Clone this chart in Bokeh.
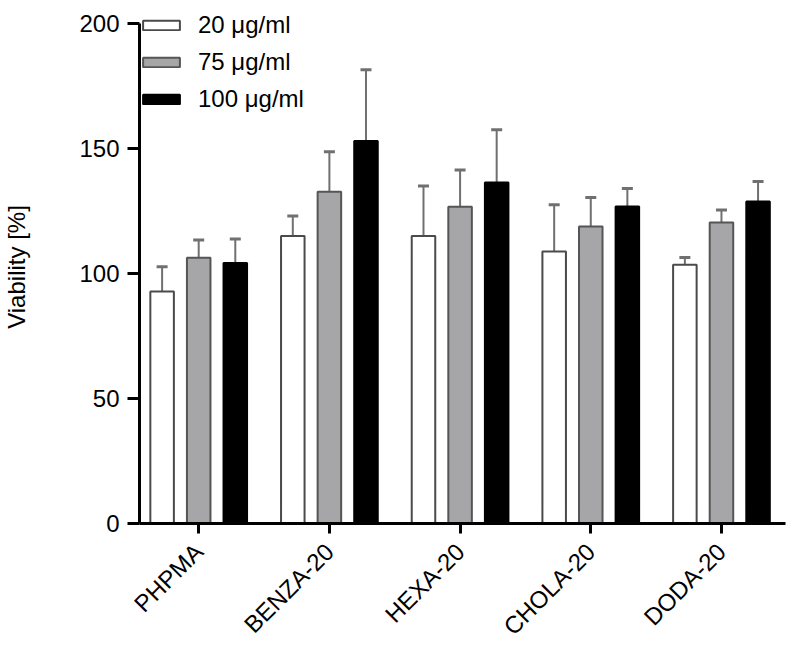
from bokeh.plotting import figure
from bokeh.models import ColumnDataSource, Whisker, FixedTicker, Legend, LegendItem, TeeHead
from bokeh.transform import dodge
from bokeh.embed import file_html
from bokeh.resources import INLINE

categories = ["PHPMA", "BENZA-20", "HEXA-20", "CHOLA-20", "DODA-20"]
series_names = ["20 μg/ml", "75 μg/ml", "100 μg/ml"]
v20 = [92.8, 115.0, 115.0, 108.8, 103.5]
e20 = [9.9, 8.0, 20.0, 18.7, 2.9]
v75 = [106.3, 132.7, 126.7, 118.8, 120.4]
e75 = [7.1, 16.0, 14.7, 11.6, 5.0]
v100 = [104.2, 153.0, 136.4, 126.8, 128.8]
e100 = [9.6, 28.5, 21.1, 7.2, 8.0]
yticks = [0, 50, 100, 150, 200]

FONT = "Liberation Sans"

p = figure(width=786, height=655, x_range=(0.547, 5.49), y_range=(0, 205.2),
           output_backend="svg", toolbar_location=None,
           min_border_left=130, min_border_right=1, min_border_top=10, min_border_bottom=132)
p.outline_line_color = None
p.xgrid.grid_line_color = None
p.ygrid.grid_line_color = None
p.background_fill_color = "white"
p.border_fill_color = "white"

xs = [i + 1 for i in range(len(categories))]
offsets = [-0.28, 0.0, 0.28]
fills = ["white", "#a6a6a8", "black"]
lines = ["#4a4a4a", "#555555", "black"]
vals = [v20, v75, v100]
errs = [e20, e75, e100]

items = []
for name, off, fc, lc, v, e in zip(series_names, offsets, fills, lines, vals, errs):
    src = ColumnDataSource(dict(x=xs, top=v, upper=[a + b for a, b in zip(v, e)]))
    w = Whisker(base=dodge("x", off), lower="top", upper="upper", source=src,
                line_color="#707070", line_width=2,
                upper_head=TeeHead(size=11, line_color="#707070", line_width=3), lower_head=None)
    p.add_layout(w)
    r = p.vbar(x=dodge("x", off), top="top", width=0.18, bottom=0, source=src,
               fill_color=fc, line_color=lc, line_width=2)
    items.append(LegendItem(label=name, renderers=[r]))

legend = Legend(items=items, location=(-1, 410), padding=0, margin=0,
                border_line_color=None, background_fill_alpha=0,
                glyph_width=46, glyph_height=12, label_standoff=14,
                label_text_font=FONT, label_text_font_size="24px",
                label_text_color="black",
                label_height=26, spacing=9)
p.add_layout(legend)

# axes
for ax in (p.xaxis[0], p.yaxis[0]):
    ax.axis_line_width = 3
    ax.axis_line_color = "black"
    ax.major_tick_line_width = 3
    ax.major_tick_line_color = "black"
    ax.minor_tick_line_color = None
    ax.major_tick_in = 0
    ax.major_label_text_font = FONT
    ax.major_label_text_font_size = "24px"
    ax.major_label_text_color = "black"

p.yaxis[0].ticker = FixedTicker(ticks=yticks)
p.yaxis[0].bounds = (0, 200)
p.yaxis[0].major_tick_out = 12
p.yaxis[0].major_label_standoff = 8
p.yaxis[0].axis_label = "Viability [%]"
p.yaxis[0].axis_label_text_font = FONT
p.yaxis[0].axis_label_text_font_size = "24px"
p.yaxis[0].axis_label_text_font_style = "normal"
p.yaxis[0].axis_label_text_color = "black"
p.yaxis[0].axis_label_standoff = 46

p.xaxis[0].ticker = FixedTicker(ticks=xs)
p.xaxis[0].major_label_overrides = {x: c for x, c in zip(xs, categories)}
p.xaxis[0].major_tick_out = 10
p.xaxis[0].major_label_orientation = 0.785398
p.xaxis[0].major_label_standoff = 14

open("out.html", "w").write(file_html(p, INLINE))
